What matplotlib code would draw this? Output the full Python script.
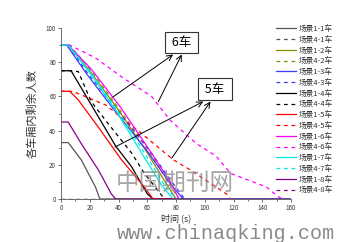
import matplotlib
matplotlib.use("Agg")
import matplotlib.pyplot as plt
from matplotlib.ticker import MultipleLocator

plt.rcParams['font.family'] = ['Noto Sans CJK SC', 'DejaVu Sans']

# ---- data (time in s, remaining passengers) ----
labels = ["场景1-1车", "场景4-1车", "场景1-2车", "场景4-2车",
          "场景1-3车", "场景4-3车", "场景1-4车", "场景4-4车",
          "场景1-5车", "场景4-5车", "场景1-6车", "场景4-6车",
          "场景1-7车", "场景4-7车", "场景1-8车", "场景4-8车"]
colors = ["#555555", "#555555", "#8a8a00", "#8a8a00",
          "#3a3aff", "#3a3aff", "#000000", "#000000",
          "#ff0000", "#ff0000", "#ff00ff", "#ff00ff",
          "#00e8e8", "#00e8e8", "#8b008b", "#8b008b"]

t_1_1 = [0, 5, 14, 24, 27, 160]
v_1_1 = [33, 33, 23, 7, 0, 0]
t_4_1 = [0, 160]
v_4_1 = [0, 0]
t_1_2 = [0, 5, 20, 40, 60, 74, 80, 160]
v_1_2 = [90, 90, 75, 52, 27, 8, 0, 0]
t_4_2 = [0, 6, 21, 41, 62, 76, 82, 160]
v_4_2 = [90, 90, 75, 52, 27, 8, 0, 0]
t_1_3 = [0, 4, 18, 38, 60, 76, 85, 160]
v_1_3 = [90, 90, 73, 51, 28, 9, 0, 0]
t_4_3 = [0, 5, 19, 40, 62, 78, 86, 160]
v_4_3 = [90, 90, 73, 51, 28, 9, 0, 0]
t_1_4 = [0, 7, 19, 38, 49, 60, 64, 160]
v_1_4 = [75, 75, 58, 31, 19, 3, 0, 0]
t_4_4 = [0, 8, 12, 21, 31, 49, 58, 72, 160]
v_4_4 = [75, 75, 74.5, 57, 46, 27, 15, 0, 0]
t_1_5 = [0, 6, 12, 26, 42, 58, 64, 160]
v_1_5 = [63, 63, 58, 42, 23, 7, 0, 0]
t_4_5 = [0, 8, 31, 55, 78, 90, 115, 118, 160]
v_4_5 = [63, 63, 55, 39, 23, 17, 3, 0, 0]
t_1_6 = [0, 5, 21, 42, 62, 76, 82, 160]
v_1_6 = [90, 90, 76, 53, 28, 10, 0, 0]
t_4_6 = [0, 6, 24, 42, 63, 76, 94, 108, 118, 143, 150, 154, 160]
v_4_6 = [90, 90, 82.5, 71.5, 60, 46, 32.5, 25, 15, 7, 2, 0, 0]
t_1_7 = [0, 5, 19, 38, 56, 70, 78, 160]
v_1_7 = [90, 90, 75, 52, 27, 8, 0, 0]
t_4_7 = [0, 5, 20, 39, 58, 72, 80, 160]
v_4_7 = [90, 90, 75, 52, 27, 8, 0, 0]
t_1_8 = [0, 5, 14, 26, 35, 38, 160]
v_1_8 = [45, 45, 32.5, 17, 3, 0, 0]
t_4_8 = [0, 160]
v_4_8 = [0, 0]

series_t = [t_1_1, t_4_1, t_1_2, t_4_2, t_1_3, t_4_3, t_1_4, t_4_4,
            t_1_5, t_4_5, t_1_6, t_4_6, t_1_7, t_4_7, t_1_8, t_4_8]
series_v = [v_1_1, v_4_1, v_1_2, v_4_2, v_1_3, v_4_3, v_1_4, v_4_4,
            v_1_5, v_4_5, v_1_6, v_4_6, v_1_7, v_4_7, v_1_8, v_4_8]

x_ticks = [0, 20, 40, 60, 80, 100, 120, 140, 160]
y_ticks = [0, 20, 40, 60, 80, 100]

# annotation arrows: (start_t, start_v) -> (end_t, end_v)
ann6_text = " 6车 "
ann6_pos = (83.8, 91.5)
ann6_from = [(36, 59.6), (67.7, 56.9)]
ann6_to = [(78, 84.5), (84, 84.5)]
ann5_text = " 5车 "
ann5_pos = (107, 64.3)
ann5_from = [(37.6, 30.4), (77, 23.8)]
ann5_to = [(99, 57), (104, 57)]

fig = plt.figure(figsize=(3.4, 2.42), dpi=100)
ax = fig.add_axes([61/340, (242-199)/242, 230/340, 171/242])

for i, (t, v) in enumerate(zip(series_t, series_v)):
    ls = '-' if i % 2 == 0 else (0, (3, 3))
    ax.plot(t, v, color=colors[i], lw=0.9, linestyle=ls, label=labels[i])

ax.set_xlim(0, 160)
ax.set_ylim(0, 100)
ax.set_xticks(x_ticks)
ax.set_yticks(y_ticks)
ax.xaxis.set_minor_locator(MultipleLocator(10))
ax.yaxis.set_minor_locator(MultipleLocator(10))
ax.tick_params(axis='both', which='major', labelsize=4.5, length=2, width=0.5,
               pad=1.5, colors='#333333')
ax.tick_params(axis='both', which='minor', length=1.2, width=0.5, colors='#333333')
for s in ['top', 'right']:
    ax.spines[s].set_visible(False)
for s in ['left', 'bottom']:
    ax.spines[s].set_linewidth(0.6)
    ax.spines[s].set_color('#555555')

ax.set_ylabel("各车厢内剩余人数", fontsize=8, color='#333333', labelpad=6)
ax.set_xlabel("时间 (s)", fontsize=6.5, color='#333333', labelpad=1.5)

arrowprops = dict(arrowstyle='->', color='black', lw=0.7, shrinkA=0, shrinkB=0)
for (fs, fv), (ts, tv) in zip(ann6_from, ann6_to):
    ax.annotate("", xy=(ts, tv), xytext=(fs, fv), arrowprops=arrowprops)
for (fs, fv), (ts, tv) in zip(ann5_from, ann5_to):
    ax.annotate("", xy=(ts, tv), xytext=(fs, fv), arrowprops=arrowprops)
bbox = dict(boxstyle='square,pad=0.35', fc='white', ec='#333333', lw=0.8)
ax.text(ann6_pos[0], ann6_pos[1], ann6_text, fontsize=9, ha='center', va='center', bbox=bbox)
ax.text(ann5_pos[0], ann5_pos[1], ann5_text, fontsize=9, ha='center', va='center', bbox=bbox)

leg = ax.legend(loc='upper left', bbox_to_anchor=(276/340, 1 - 25/242),
                bbox_transform=fig.transFigure, frameon=False, fontsize=5.5,
                handlelength=2.6, handletextpad=0.4, labelspacing=0.36,
                borderpad=0, borderaxespad=0)
for txt in leg.get_texts():
    txt.set_color('#333333')

# watermarks
fig.text(175/340, 1 - 183/242, "中国期刊网", fontsize=17, color='#888888', alpha=0.75,
         ha='center', va='center')
fig.text(226/340, 1 - 233.5/242, "www.chinaqking.com", fontsize=14.5, color='#8a8a8a',
         family='Liberation Mono', ha='center', va='center')

fig.savefig("out.png", dpi=100)
